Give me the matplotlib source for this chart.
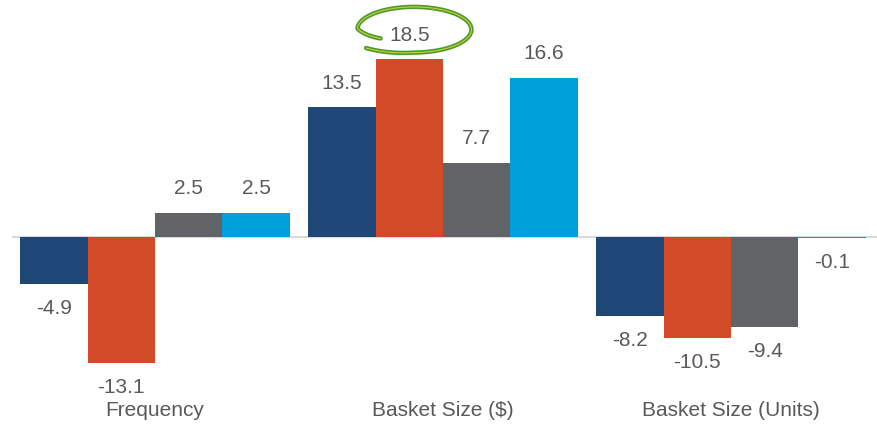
import numpy as np
import matplotlib
matplotlib.use("Agg")
import matplotlib.pyplot as plt
from matplotlib.transforms import Affine2D, ScaledTranslation

categories = ["Frequency", "Basket Size ($)", "Basket Size (Units)"]
series_a = [-4.9, 13.5, -8.2]
series_b = [-13.1, 18.5, -10.5]
series_c = [2.5, 7.7, -9.4]
series_d = [2.5, 16.6, -0.1]

colors = ["#1F4778", "#D24A28", "#626366", "#00A1DB"]
text_color = "#595959"

plt.rcParams["font.family"] = ["Liberation Sans", "DejaVu Sans"]

fig = plt.figure(figsize=(8.77, 4.24), dpi=100)
# axes placed so the zero line and labels land where we want them
ax = fig.add_axes([12 / 877, 26 / 424, 865 / 877, 398 / 424])

x = np.arange(len(categories))
width = 0.234
offsets = (np.arange(4) - 1.5) * width

all_series = [series_a, series_b, series_c, series_d]
for off, vals, col in zip(offsets, all_series, colors):
    ax.bar(x + off, vals, width=width, color=col, zorder=2)
    for xi, v in zip(x, vals):
        dy = 17.5 if v >= 0 else -17.5
        ax.annotate(f"{v:.1f}", (xi + off, v), xytext=(0, dy),
                    textcoords="offset points", ha="center", va="center",
                    fontsize=15, color=text_color)

ax.axhline(0, color="#D9D9D9", lw=1.5, zorder=1)

ax.set_xlim(-0.4965, 2.507)
ax.set_ylim(-16.77, 24.69)
ax.set_yticks([])
ax.set_xticks(x)
ax.set_xticklabels(categories, fontsize=15, color=text_color)
ax.tick_params(axis="x", length=0, pad=2)
for s in ax.spines.values():
    s.set_visible(False)

# hand-drawn loop around the biggest value
rx, ry = 57, 22.5
theta = np.radians(np.linspace(215, -135, 300))
t_pts = np.radians([-135, -90, 0, 100, 178, 215])
r_pts = [1.17, 1.03, 1.02, 1.0, 0.98, 0.7]
r = np.interp(theta, t_pts, r_pts)
px = rx * r * np.cos(theta) + 4
py = ry * r * np.sin(theta) + 30
loop_tf = Affine2D() + ScaledTranslation(x[1] + offsets[1], series_b[1], ax.transData)
ax.plot(px, py, color="#4E9A2A", lw=3.2, transform=loop_tf, clip_on=False,
        solid_capstyle="round", zorder=5)
ax.plot(px, py, color="#C9D13A", lw=0.8, transform=loop_tf, clip_on=False,
        solid_capstyle="round", zorder=6)

fig.savefig("out.png", dpi=100)
